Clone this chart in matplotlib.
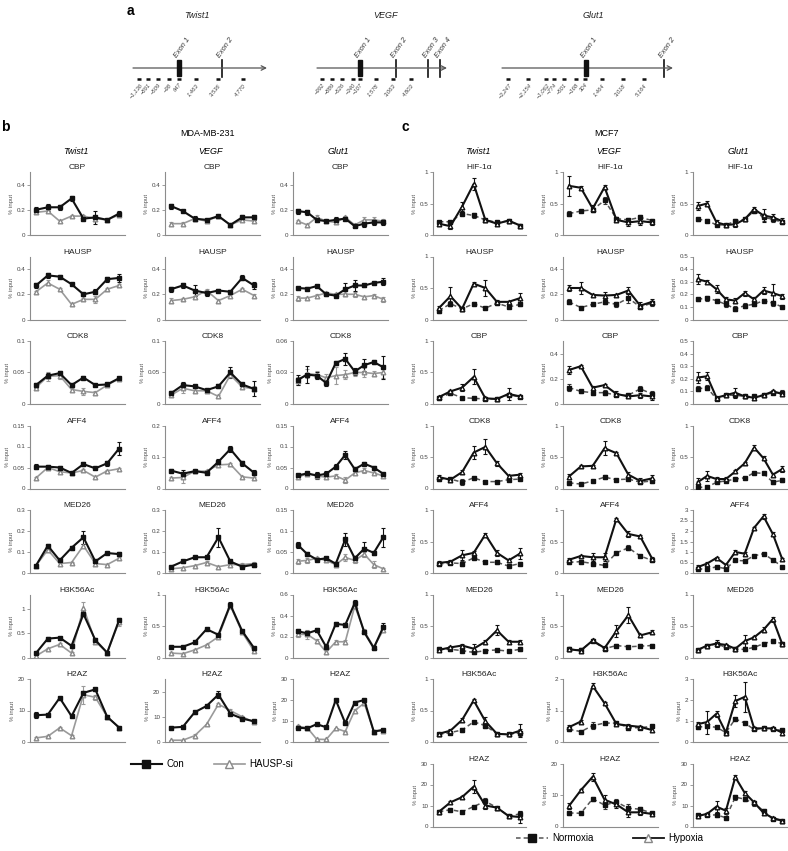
import numpy as np
import matplotlib
matplotlib.use("Agg")
import matplotlib.pyplot as plt
from matplotlib.lines import Line2D
from matplotlib.patches import Rectangle

W, H = 788, 851

# ---------------- panel a: amplicon maps (schematic offsets from line start, px) ----------------
GENES = ["Twist1", "VEGF", "Glut1"]
TWIST1_PRIMERS = ["\u22121,136", "\u2212891", "\u2212509", "\u221298", "647", "1,463", "3,536", "4,770"]
TWIST1_PRIMER_POS = [6, 15, 25, 36, 46, 63, 85, 110]
TWIST1_EXONS = ["Exon 1", "Exon 2"]
TWIST1_EXON_POS = [46, 89]
VEGF_PRIMERS = ["\u2212992", "\u2212889", "\u2212526", "\u2212340", "\u2212107", "1,578", "3,063", "4,803"]
VEGF_PRIMER_POS = [5, 15, 25, 36, 43, 59, 76, 94]
VEGF_EXONS = ["Exon 1", "Exon 2", "Exon 3", "Exon 4"]
VEGF_EXON_POS = [43, 79, 111, 123]
GLUT1_PRIMERS = ["\u22123,247", "\u22122,154", "\u22121,062", "\u2212774", "\u2212501", "\u2212168", "304",
                 "1,464", "3,018", "5,164"]
GLUT1_PRIMER_POS = [6, 26, 44, 52, 62, 74, 83, 100, 121, 142]
GLUT1_EXONS = ["Exon 1", "Exon 2"]
GLUT1_EXON_POS = [84, 162]

# ---------------- panel b: MDA-MB-231, Con vs HAUSP-si ----------------
B_ROWS = ["CBP", "HAUSP", "CDK8", "AFF4", "MED26", "H3K56Ac", "H2AZ"]
B_CBP_CON = [[0.20, 0.22, 0.22, 0.29, 0.13, 0.14, 0.12, 0.17],
             [0.23, 0.19, 0.13, 0.12, 0.15, 0.08, 0.14, 0.14],
             [0.19, 0.18, 0.12, 0.11, 0.12, 0.13, 0.07, 0.09, 0.10, 0.10]]
B_CBP_CON_ERR = [[0.02, 0.03, 0.02, 0.02, 0.01, 0.05, 0.01, 0.02],
                 [0.02, 0.01, 0.02, 0.01, 0.01, 0.01, 0.02, 0.02],
                 [0.02, 0.02, 0.02, 0.01, 0.02, 0.01, 0.01, 0.03, 0.02, 0.02]]
B_CBP_SI = [[0.18, 0.19, 0.11, 0.15, 0.15, 0.13, 0.12, 0.16],
            [0.09, 0.09, 0.13, 0.11, 0.15, 0.08, 0.12, 0.11],
            [0.11, 0.08, 0.14, 0.11, 0.10, 0.14, 0.08, 0.12, 0.12, 0.11]]
B_CBP_SI_ERR = [[0.01, 0.01, 0.01, 0.01, 0.01, 0.02, 0.01, 0.02],
                [0.01, 0.01, 0.01, 0.01, 0.01, 0.01, 0.01, 0.01],
                [0.01, 0.01, 0.02, 0.01, 0.01, 0.01, 0.01, 0.02, 0.02, 0.02]]

B_HAUSP_CON = [[0.27, 0.35, 0.34, 0.28, 0.20, 0.22, 0.32, 0.33],
               [0.24, 0.27, 0.23, 0.21, 0.23, 0.22, 0.33, 0.27],
               [0.25, 0.245, 0.265, 0.20, 0.19, 0.24, 0.27, 0.27, 0.29, 0.30]]
B_HAUSP_CON_ERR = [[0.02, 0.02, 0.01, 0.01, 0.01, 0.02, 0.02, 0.03],
                   [0.02, 0.02, 0.04, 0.02, 0.01, 0.01, 0.02, 0.03],
                   [0.01, 0.01, 0.01, 0.01, 0.01, 0.05, 0.04, 0.01, 0.01, 0.03]]
B_HAUSP_SI = [[0.22, 0.29, 0.24, 0.12, 0.16, 0.16, 0.24, 0.27],
              [0.15, 0.16, 0.18, 0.23, 0.15, 0.19, 0.24, 0.19],
              [0.17, 0.17, 0.19, 0.21, 0.20, 0.20, 0.20, 0.18, 0.19, 0.16]]
B_HAUSP_SI_ERR = [[0.01, 0.02, 0.01, 0.01, 0.01, 0.03, 0.01, 0.01],
                  [0.02, 0.01, 0.01, 0.01, 0.01, 0.01, 0.01, 0.01],
                  [0.02, 0.01, 0.01, 0.01, 0.01, 0.01, 0.02, 0.01, 0.01, 0.02]]

B_CDK8_CON = [[0.030, 0.045, 0.049, 0.030, 0.042, 0.030, 0.031, 0.041],
              [0.017, 0.030, 0.028, 0.022, 0.028, 0.050, 0.031, 0.024],
              [0.023, 0.028, 0.027, 0.020, 0.039, 0.043, 0.031, 0.037, 0.040, 0.035]]
B_CDK8_CON_ERR = [[0.004, 0.004, 0.003, 0.002, 0.003, 0.002, 0.002, 0.002],
                  [0.004, 0.005, 0.002, 0.002, 0.003, 0.009, 0.002, 0.012],
                  [0.005, 0.008, 0.003, 0.003, 0.002, 0.006, 0.003, 0.006, 0.002, 0.011]]
B_CDK8_SI = [[0.026, 0.044, 0.045, 0.023, 0.020, 0.018, 0.030, 0.040],
             [0.014, 0.025, 0.021, 0.021, 0.012, 0.046, 0.027, 0.024],
             [0.022, 0.029, 0.028, 0.025, 0.027, 0.028, 0.030, 0.030, 0.029, 0.030]]
B_CDK8_SI_ERR = [[0.004, 0.007, 0.005, 0.003, 0.006, 0.002, 0.002, 0.002],
                 [0.003, 0.008, 0.002, 0.002, 0.002, 0.003, 0.003, 0.004],
                 [0.004, 0.004, 0.003, 0.004, 0.008, 0.004, 0.003, 0.004, 0.002, 0.005]]

B_AFF4_CON = [[0.052, 0.052, 0.050, 0.037, 0.058, 0.048, 0.060, 0.095],
              [0.057, 0.047, 0.055, 0.050, 0.085, 0.125, 0.080, 0.050],
              [0.031, 0.036, 0.031, 0.035, 0.052, 0.080, 0.046, 0.059, 0.050, 0.035]]
B_AFF4_CON_ERR = [[0.006, 0.004, 0.004, 0.002, 0.005, 0.002, 0.006, 0.015],
                  [0.006, 0.012, 0.003, 0.004, 0.008, 0.010, 0.008, 0.008],
                  [0.004, 0.002, 0.008, 0.006, 0.006, 0.010, 0.004, 0.004, 0.004, 0.003]]
B_AFF4_SI = [[0.025, 0.050, 0.040, 0.037, 0.043, 0.027, 0.042, 0.047],
             [0.033, 0.035, 0.055, 0.055, 0.075, 0.077, 0.037, 0.033],
             [0.027, 0.035, 0.030, 0.027, 0.030, 0.020, 0.037, 0.043, 0.037, 0.030]]
B_AFF4_SI_ERR = [[0.003, 0.004, 0.004, 0.002, 0.004, 0.002, 0.003, 0.002],
                 [0.005, 0.018, 0.003, 0.004, 0.006, 0.005, 0.003, 0.005],
                 [0.004, 0.002, 0.005, 0.004, 0.004, 0.008, 0.003, 0.005, 0.003, 0.003]]

B_MED26_CON = [[0.035, 0.13, 0.06, 0.12, 0.17, 0.055, 0.095, 0.09],
               [0.03, 0.055, 0.075, 0.075, 0.17, 0.055, 0.03, 0.04],
               [0.067, 0.045, 0.032, 0.035, 0.022, 0.080, 0.035, 0.058, 0.048, 0.085]]
B_MED26_CON_ERR = [[0.005, 0.01, 0.005, 0.01, 0.03, 0.005, 0.005, 0.01],
                   [0.004, 0.005, 0.004, 0.005, 0.045, 0.006, 0.006, 0.01],
                   [0.007, 0.004, 0.004, 0.004, 0.005, 0.015, 0.005, 0.017, 0.005, 0.022]]
B_MED26_SI = [[0.035, 0.11, 0.045, 0.05, 0.13, 0.045, 0.04, 0.07],
              [0.02, 0.025, 0.035, 0.05, 0.03, 0.04, 0.04, 0.045],
              [0.028, 0.030, 0.035, 0.030, 0.020, 0.037, 0.030, 0.045, 0.020, 0.010]]
B_MED26_SI_ERR = [[0.005, 0.008, 0.005, 0.004, 0.008, 0.005, 0.004, 0.008],
                  [0.005, 0.004, 0.004, 0.005, 0.004, 0.006, 0.006, 0.008],
                  [0.006, 0.005, 0.004, 0.004, 0.005, 0.008, 0.006, 0.006, 0.008, 0.002]]

B_H3_CON = [[0.09, 0.39, 0.41, 0.24, 0.90, 0.36, 0.10, 0.77],
            [0.17, 0.17, 0.24, 0.45, 0.36, 0.84, 0.42, 0.15],
            [0.25, 0.23, 0.26, 0.10, 0.32, 0.31, 0.52, 0.24, 0.09, 0.29]]
B_H3_CON_ERR = [[0.02, 0.03, 0.02, 0.02, 0.05, 0.04, 0.02, 0.05],
                [0.01, 0.01, 0.01, 0.01, 0.01, 0.04, 0.02, 0.02],
                [0.02, 0.02, 0.02, 0.03, 0.02, 0.02, 0.03, 0.02, 0.02, 0.04]]
B_H3_SI = [[0.03, 0.18, 0.27, 0.09, 1.03, 0.33, 0.10, 0.74],
           [0.07, 0.06, 0.12, 0.20, 0.33, 0.82, 0.40, 0.10],
           [0.22, 0.22, 0.16, 0.05, 0.15, 0.15, 0.49, 0.25, 0.10, 0.26]]
B_H3_SI_ERR = [[0.02, 0.02, 0.02, 0.02, 0.12, 0.06, 0.02, 0.08],
               [0.01, 0.01, 0.01, 0.01, 0.01, 0.03, 0.01, 0.01],
               [0.02, 0.04, 0.02, 0.02, 0.02, 0.02, 0.03, 0.02, 0.02, 0.02]]

B_H2AZ_CON = [[8.5, 8.7, 14.0, 8.2, 15.6, 16.7, 8.0, 4.6],
              [5.7, 6.0, 11.8, 14.3, 18.8, 11.2, 9.3, 8.2],
              [6.8, 6.5, 8.5, 7.0, 20.0, 9.0, 18.8, 20.0, 5.0, 5.8]]
B_H2AZ_CON_ERR = [[1.0, 0.3, 0.3, 0.3, 0.6, 0.5, 0.3, 0.3],
                  [0.3, 0.3, 0.5, 0.3, 1.5, 0.5, 0.3, 0.3],
                  [0.5, 0.5, 0.3, 0.3, 0.5, 0.5, 0.5, 0.5, 0.5, 0.3]]
B_H2AZ_SI = [[1.3, 1.8, 4.5, 2.0, 15.0, 14.2, 8.0, 4.6],
             [0.7, 0.7, 2.5, 7.0, 15.0, 12.5, 10.0, 7.9],
             [7.5, 6.8, 1.3, 1.2, 6.5, 5.0, 15.0, 18.5, 5.0, 5.3]]
B_H2AZ_SI_ERR = [[0.2, 0.3, 0.4, 0.3, 2.8, 0.8, 0.3, 0.3],
                 [0.2, 0.2, 0.6, 0.3, 0.5, 0.5, 0.3, 0.5],
                 [0.5, 0.5, 0.3, 0.3, 0.4, 0.4, 0.6, 0.6, 0.4, 0.3]]

# y-axis (top, ticks) per row, per gene
B_YAXES = [
    [(0.5, [0, 0.2, 0.4])] * 3,
    [(0.5, [0, 0.2, 0.4])] * 3,
    [(0.1, [0, 0.05, 0.1]), (0.1, [0, 0.05, 0.1]), (0.06, [0, 0.03, 0.06])],
    [(0.15, [0, 0.05, 0.1, 0.15]), (0.2, [0, 0.1, 0.2]), (0.15, [0, 0.05, 0.1, 0.15])],
    [(0.3, [0, 0.1, 0.2, 0.3]), (0.3, [0, 0.1, 0.2, 0.3]), (0.15, [0, 0.05, 0.1, 0.15])],
    [(1.3, [0, 0.5, 1]), (1, [0, 0.5, 1]), (0.6, [0, 0.2, 0.4, 0.6])],
    [(20, [0, 10, 20]), (25, [0, 10, 20]), (30, [0, 10, 20, 30])],
]

# ---------------- panel c: MCF7, Normoxia vs Hypoxia ----------------
C_ROWS = ["HIF-1\u03b1", "HAUSP", "CBP", "CDK8", "AFF4", "MED26", "H3K56Ac", "H2AZ"]
C_HIF_NORM = [[0.21, 0.21, 0.34, 0.31, 0.24, 0.20, 0.22, 0.15],
              [0.34, 0.38, 0.40, 0.55, 0.26, 0.24, 0.28, 0.23],
              [0.25, 0.23, 0.16, 0.16, 0.22, 0.25, 0.38, 0.28, 0.25, 0.20]]
C_HIF_NORM_ERR = [[0.02, 0.02, 0.02, 0.04, 0.02, 0.02, 0.02, 0.02],
                  [0.04, 0.02, 0.03, 0.05, 0.03, 0.03, 0.03, 0.03],
                  [0.02, 0.02, 0.02, 0.02, 0.03, 0.02, 0.03, 0.05, 0.04, 0.03]]
C_HIF_HYP = [[0.18, 0.14, 0.45, 0.81, 0.24, 0.18, 0.23, 0.15],
             [0.78, 0.75, 0.42, 0.76, 0.24, 0.20, 0.22, 0.20],
             [0.46, 0.50, 0.20, 0.16, 0.17, 0.25, 0.41, 0.31, 0.28, 0.22]]
C_HIF_HYP_ERR = [[0.03, 0.04, 0.07, 0.10, 0.02, 0.02, 0.02, 0.02],
                 [0.16, 0.02, 0.05, 0.03, 0.04, 0.06, 0.06, 0.04],
                 [0.06, 0.04, 0.04, 0.02, 0.05, 0.02, 0.04, 0.11, 0.06, 0.05]]

C_HAUSP_NORM = [[0.14, 0.25, 0.17, 0.25, 0.18, 0.26, 0.20, 0.24],
                [0.14, 0.095, 0.12, 0.14, 0.12, 0.17, 0.10, 0.13],
                [0.16, 0.17, 0.15, 0.12, 0.085, 0.11, 0.12, 0.15, 0.13, 0.10]]
C_HAUSP_NORM_ERR = [[0.03, 0.04, 0.02, 0.02, 0.01, 0.03, 0.02, 0.03],
                    [0.02, 0.01, 0.01, 0.02, 0.02, 0.04, 0.02, 0.02],
                    [0.01, 0.02, 0.01, 0.02, 0.02, 0.02, 0.01, 0.01, 0.02, 0.01]]
C_HAUSP_HYP = [[0.18, 0.37, 0.17, 0.57, 0.50, 0.28, 0.28, 0.34],
               [0.25, 0.25, 0.195, 0.19, 0.195, 0.23, 0.11, 0.14],
               [0.32, 0.30, 0.24, 0.16, 0.15, 0.21, 0.16, 0.23, 0.21, 0.185]]
C_HAUSP_HYP_ERR = [[0.03, 0.15, 0.02, 0.02, 0.12, 0.03, 0.02, 0.08],
                   [0.02, 0.05, 0.01, 0.03, 0.01, 0.03, 0.03, 0.02],
                   [0.04, 0.01, 0.03, 0.02, 0.02, 0.02, 0.02, 0.03, 0.07, 0.02]]

C_CBP_NORM = [[0.09, 0.17, 0.10, 0.09, 0.08, 0.08, 0.15, 0.11],
              [0.13, 0.10, 0.09, 0.09, 0.07, 0.07, 0.12, 0.08],
              [0.12, 0.13, 0.04, 0.07, 0.07, 0.06, 0.06, 0.07, 0.09, 0.09]]
C_CBP_NORM_ERR = [[0.02, 0.02, 0.01, 0.01, 0.01, 0.01, 0.03, 0.02],
                  [0.03, 0.01, 0.02, 0.02, 0.01, 0.01, 0.02, 0.02],
                  [0.02, 0.02, 0.01, 0.01, 0.01, 0.01, 0.01, 0.01, 0.01, 0.02]]
C_CBP_HYP = [[0.11, 0.20, 0.26, 0.43, 0.09, 0.08, 0.16, 0.12],
             [0.27, 0.30, 0.13, 0.15, 0.08, 0.06, 0.07, 0.06],
             [0.21, 0.22, 0.05, 0.07, 0.09, 0.06, 0.05, 0.07, 0.10, 0.08]]
C_CBP_HYP_ERR = [[0.02, 0.02, 0.06, 0.12, 0.02, 0.02, 0.10, 0.02],
                 [0.03, 0.01, 0.01, 0.01, 0.02, 0.01, 0.02, 0.03],
                 [0.04, 0.03, 0.01, 0.01, 0.04, 0.01, 0.01, 0.01, 0.01, 0.02]]

C_CDK8_NORM = [[0.15, 0.15, 0.10, 0.17, 0.11, 0.11, 0.14, 0.15],
               [0.09, 0.07, 0.12, 0.18, 0.14, 0.15, 0.10, 0.12],
               [0.02, 0.02, 0.10, 0.12, 0.15, 0.17, 0.25, 0.24, 0.10, 0.13]]
C_CDK8_NORM_ERR = [[0.03, 0.02, 0.05, 0.01, 0.01, 0.01, 0.02, 0.02],
                   [0.01, 0.01, 0.01, 0.03, 0.01, 0.02, 0.03, 0.03],
                   [0.02, 0.01, 0.02, 0.02, 0.01, 0.01, 0.01, 0.01, 0.03, 0.03]]
C_CDK8_HYP = [[0.18, 0.14, 0.26, 0.57, 0.66, 0.40, 0.20, 0.22],
              [0.19, 0.35, 0.36, 0.64, 0.56, 0.22, 0.12, 0.16],
              [0.10, 0.20, 0.15, 0.15, 0.27, 0.40, 0.65, 0.48, 0.22, 0.31]]
C_CDK8_HYP_ERR = [[0.04, 0.03, 0.03, 0.10, 0.12, 0.04, 0.02, 0.03],
                  [0.04, 0.02, 0.02, 0.11, 0.02, 0.04, 0.05, 0.05],
                  [0.07, 0.08, 0.04, 0.03, 0.02, 0.02, 0.04, 0.03, 0.02, 0.05]]

C_AFF4_NORM = [[0.14, 0.16, 0.15, 0.24, 0.17, 0.17, 0.11, 0.15],
               [0.17, 0.18, 0.15, 0.12, 0.32, 0.40, 0.27, 0.20],
               [0.20, 0.18, 0.30, 0.20, 0.60, 0.58, 0.82, 0.92, 0.62, 0.30]]
C_AFF4_NORM_ERR = [[0.03, 0.02, 0.04, 0.02, 0.03, 0.03, 0.02, 0.02],
                   [0.02, 0.02, 0.02, 0.01, 0.02, 0.04, 0.02, 0.03],
                   [0.05, 0.05, 0.03, 0.05, 0.05, 0.05, 0.05, 0.05, 0.05, 0.05]]
C_AFF4_HYP = [[0.16, 0.18, 0.28, 0.32, 0.61, 0.32, 0.20, 0.31],
              [0.21, 0.27, 0.25, 0.25, 0.86, 0.62, 0.58, 0.23],
              [0.28, 0.45, 0.72, 0.38, 1.00, 0.92, 2.15, 2.70, 1.85, 0.65]]
C_AFF4_HYP_ERR = [[0.03, 0.02, 0.08, 0.03, 0.02, 0.05, 0.02, 0.08],
                  [0.03, 0.02, 0.06, 0.06, 0.02, 0.05, 0.02, 0.03],
                  [0.08, 0.06, 0.06, 0.06, 0.10, 0.06, 0.06, 0.12, 0.08, 0.06]]

C_MED26_NORM = [[0.13, 0.13, 0.11, 0.08, 0.11, 0.12, 0.10, 0.13],
                [0.13, 0.12, 0.26, 0.14, 0.19, 0.17, 0.18, 0.19],
                [0.12, 0.18, 0.22, 0.16, 0.13, 0.13, 0.16, 0.22, 0.26, 0.22]]
C_MED26_NORM_ERR = [[0.03, 0.02, 0.01, 0.03, 0.01, 0.01, 0.02, 0.02],
                    [0.03, 0.03, 0.01, 0.03, 0.02, 0.02, 0.03, 0.02],
                    [0.02, 0.02, 0.03, 0.02, 0.02, 0.02, 0.02, 0.02, 0.03, 0.02]]
C_MED26_HYP = [[0.12, 0.16, 0.19, 0.14, 0.25, 0.43, 0.25, 0.25],
               [0.13, 0.11, 0.27, 0.15, 0.42, 0.67, 0.35, 0.40],
               [0.12, 0.19, 0.22, 0.20, 0.14, 0.26, 0.32, 0.44, 0.61, 0.21]]
C_MED26_HYP_ERR = [[0.02, 0.02, 0.02, 0.07, 0.03, 0.08, 0.02, 0.02],
                   [0.03, 0.04, 0.02, 0.04, 0.10, 0.13, 0.03, 0.03],
                   [0.02, 0.02, 0.06, 0.02, 0.02, 0.10, 0.02, 0.04, 0.04, 0.03]]

C_H3_NORM = [[0.12, 0.15, 0.19, 0.32, 0.26, 0.13, 0.12, 0.15],
             [0.40, 0.33, 0.52, 0.60, 0.60, 0.46, 0.45, 0.50],
             [0.70, 0.75, 0.70, 0.45, 1.10, 0.90, 0.60, 0.65, 0.60, 0.55]]
C_H3_NORM_ERR = [[0.02, 0.02, 0.03, 0.02, 0.03, 0.01, 0.02, 0.05],
                 [0.05, 0.03, 0.10, 0.02, 0.03, 0.05, 0.03, 0.04],
                 [0.10, 0.10, 0.06, 0.05, 0.06, 0.05, 0.05, 0.06, 0.05, 0.05]]
C_H3_HYP = [[0.13, 0.18, 0.35, 0.66, 0.33, 0.13, 0.12, 0.18],
            [0.47, 0.65, 1.78, 1.23, 0.57, 0.52, 0.48, 0.38],
            [0.85, 0.95, 1.35, 0.45, 1.95, 2.15, 0.65, 0.65, 0.65, 0.45]]
C_H3_HYP_ERR = [[0.02, 0.02, 0.03, 0.03, 0.06, 0.02, 0.02, 0.10],
                [0.08, 0.05, 0.08, 0.04, 0.04, 0.04, 0.03, 0.05],
                [0.10, 0.55, 0.15, 0.08, 0.30, 0.70, 0.06, 0.06, 0.06, 0.10]]

C_H2AZ_NORM = [[7.0, 8.0, 7.0, 9.5, 12.0, 9.0, 5.0, 6.0],
               [4.3, 4.2, 8.8, 6.8, 7.8, 5.8, 5.5, 4.2],
               [5.5, 5.5, 5.5, 4.2, 14.0, 13.0, 11.0, 7.5, 3.5, 2.8]]
C_H2AZ_NORM_ERR = [[0.5, 0.5, 0.4, 0.5, 1.5, 0.5, 0.5, 1.5],
                   [0.5, 0.3, 0.6, 1.2, 1.0, 1.2, 0.8, 0.5],
                   [0.5, 0.5, 0.8, 0.5, 1.2, 1.0, 1.0, 0.8, 0.5, 0.3]]
C_H2AZ_HYP = [[7.0, 11.5, 14.0, 19.0, 10.0, 9.0, 5.0, 4.5],
              [6.5, 11.5, 15.8, 8.5, 7.0, 4.5, 4.5, 4.0],
              [5.0, 6.0, 9.5, 7.5, 23.5, 16.0, 11.5, 6.5, 4.0, 2.8]]
C_H2AZ_HYP_ERR = [[1.0, 0.8, 0.4, 3.0, 1.5, 0.5, 0.5, 3.0],
                  [1.0, 0.4, 1.2, 1.5, 1.0, 1.5, 1.0, 0.5],
                  [0.8, 0.6, 2.5, 1.5, 1.0, 0.8, 0.8, 0.8, 0.5, 0.3]]

C_YAXES = [
    [(1, [0, 0.5, 1])] * 3,
    [(1, [0, 0.5, 1]), (0.5, [0, 0.2, 0.4]), (0.5, [0, 0.1, 0.2, 0.3, 0.4, 0.5])],
    [(1, [0, 0.5, 1]), (0.5, [0, 0.2, 0.4]), (0.5, [0, 0.1, 0.2, 0.3, 0.4, 0.5])],
    [(1, [0, 0.5, 1])] * 3,
    [(1, [0, 0.5, 1]), (1, [0, 0.5, 1]), (3, [0, 0.5, 1, 1.5, 2, 2.5, 3])],
    [(1, [0, 0.5, 1])] * 3,
    [(1, [0, 0.5, 1]), (2, [0, 1, 2]), (3, [0, 1, 2, 3])],
    [(30, [0, 10, 20, 30]), (20, [0, 10, 20]), (30, [0, 10, 20, 30])],
]

B_CON = [B_CBP_CON, B_HAUSP_CON, B_CDK8_CON, B_AFF4_CON, B_MED26_CON, B_H3_CON, B_H2AZ_CON]
B_CON_ERR = [B_CBP_CON_ERR, B_HAUSP_CON_ERR, B_CDK8_CON_ERR, B_AFF4_CON_ERR, B_MED26_CON_ERR,
             B_H3_CON_ERR, B_H2AZ_CON_ERR]
B_SI = [B_CBP_SI, B_HAUSP_SI, B_CDK8_SI, B_AFF4_SI, B_MED26_SI, B_H3_SI, B_H2AZ_SI]
B_SI_ERR = [B_CBP_SI_ERR, B_HAUSP_SI_ERR, B_CDK8_SI_ERR, B_AFF4_SI_ERR, B_MED26_SI_ERR,
            B_H3_SI_ERR, B_H2AZ_SI_ERR]
C_NORM = [C_HIF_NORM, C_HAUSP_NORM, C_CBP_NORM, C_CDK8_NORM, C_AFF4_NORM, C_MED26_NORM,
          C_H3_NORM, C_H2AZ_NORM]
C_NORM_ERR = [C_HIF_NORM_ERR, C_HAUSP_NORM_ERR, C_CBP_NORM_ERR, C_CDK8_NORM_ERR, C_AFF4_NORM_ERR,
              C_MED26_NORM_ERR, C_H3_NORM_ERR, C_H2AZ_NORM_ERR]
C_HYP = [C_HIF_HYP, C_HAUSP_HYP, C_CBP_HYP, C_CDK8_HYP, C_AFF4_HYP, C_MED26_HYP, C_H3_HYP, C_H2AZ_HYP]
C_HYP_ERR = [C_HIF_HYP_ERR, C_HAUSP_HYP_ERR, C_CBP_HYP_ERR, C_CDK8_HYP_ERR, C_AFF4_HYP_ERR,
             C_MED26_HYP_ERR, C_H3_HYP_ERR, C_H2AZ_HYP_ERR]

# ---------------- styles ----------------
STY_CON = dict(color="#111111", lw=1.5, marker="s", ms=3, mfc="#111111", mec="#111111")
STY_SI = dict(color="#9a9a9a", lw=1.2, marker="^", ms=3.3, mfc="white", mec="#8a8a8a")
STY_NORM = dict(color="#555555", lw=1.1, ls=(0, (3, 2)), marker="s", ms=3, mfc="#111111", mec="#111111")
STY_HYP = dict(color="#111111", lw=1.5, marker="^", ms=3.3, mfc="white", mec="#111111")

plt.rcParams["font.family"] = ["Liberation Sans", "DejaVu Sans"]

fig = plt.figure(figsize=(W / 100, H / 100), dpi=100)
fig.patch.set_facecolor("white")

B_COLS = [(30, 125), (165, 260), (293, 388)]
C_COLS = [(433, 526), (563, 658), (693, 787)]
ROW0_BOTTOM = 235
ROW_STEP = 84.5
AX_H = 63


def px_axes(x0, x1, ytop, ybot):
    return fig.add_axes([x0 / W, 1 - ybot / H, (x1 - x0) / W, (ybot - ytop) / H])


def draw_series(ax, vals, err, sty, ecolor):
    x = np.arange(1, len(vals) + 1)
    ax.errorbar(x, vals, yerr=err, fmt="none", ecolor=ecolor, elinewidth=0.8,
                capsize=1.3, capthick=0.8, zorder=2)
    ax.plot(x, vals, zorder=3, **sty)


def style_axes(ax, title, n, ymax, yticks):
    ax.set_xlim(0.5, n + 0.5)
    ax.set_ylim(0, ymax)
    ax.set_yticks(yticks)
    ax.set_yticklabels([f"{t:g}" for t in yticks])
    ax.set_xticks([])
    for s in ["top", "right"]:
        ax.spines[s].set_visible(False)
    for s in ["left", "bottom"]:
        ax.spines[s].set_color("#8c8c8c")
        ax.spines[s].set_linewidth(0.8)
    ax.tick_params(axis="y", length=2, width=0.6, color="#8c8c8c", labelsize=4.5,
                   labelcolor="#444444", pad=1.5)
    ax.set_title(title, fontsize=6, pad=2, color="#222222")
    ax.set_ylabel("% input", fontsize=4.3, labelpad=2, color="#555555")
    ax.patch.set_alpha(0)


# panel b
for r, row in enumerate(B_ROWS):
    ybot = ROW0_BOTTOM + r * ROW_STEP
    for g, (x0, x1) in enumerate(B_COLS):
        ax = px_axes(x0, x1, ybot - AX_H, ybot)
        draw_series(ax, B_SI[r][g], B_SI_ERR[r][g], STY_SI, "#9a9a9a")
        draw_series(ax, B_CON[r][g], B_CON_ERR[r][g], STY_CON, "#111111")
        ymax, ticks = B_YAXES[r][g]
        style_axes(ax, row, len(B_CON[r][g]), ymax, ticks)

# panel c
for r, row in enumerate(C_ROWS):
    ybot = ROW0_BOTTOM + r * ROW_STEP
    for g, (x0, x1) in enumerate(C_COLS):
        ax = px_axes(x0, x1, ybot - AX_H, ybot)
        draw_series(ax, C_NORM[r][g], C_NORM_ERR[r][g], STY_NORM, "#333333")
        draw_series(ax, C_HYP[r][g], C_HYP_ERR[r][g], STY_HYP, "#111111")
        ymax, ticks = C_YAXES[r][g]
        style_axes(ax, row, len(C_HYP[r][g]), ymax, ticks)

# overlay in pixel units for panel a and headers
ov = fig.add_axes([0, 0, 1, 1])
ov.set_xlim(0, W)
ov.set_ylim(H, 0)
ov.axis("off")
ov.patch.set_alpha(0)

ov.text(130, 11, "a", fontsize=10, fontweight="bold", ha="center", va="center")
ov.text(5, 127, "b", fontsize=10, fontweight="bold", ha="center", va="center")
ov.text(405, 127, "c", fontsize=10, fontweight="bold", ha="center", va="center")
ov.text(208, 134, "MDA-MB-231", fontsize=6.5, ha="center", va="center")
ov.text(607, 134, "MCF7", fontsize=6.5, ha="center", va="center")
for cols in (B_COLS, C_COLS):
    for gene, (x0, x1) in zip(GENES, cols):
        ov.text((x0 + x1) / 2 - 2, 151, gene, fontsize=6.5, style="italic", ha="center", va="center")

# gene maps
LINE_Y = 68
maps = [
    ("Twist1", 133, 267, 197, TWIST1_EXONS, TWIST1_EXON_POS, TWIST1_PRIMERS, TWIST1_PRIMER_POS),
    ("VEGF", 317, 447, 385, VEGF_EXONS, VEGF_EXON_POS, VEGF_PRIMERS, VEGF_PRIMER_POS),
    ("Glut1", 502, 673, 593, GLUT1_EXONS, GLUT1_EXON_POS, GLUT1_PRIMERS, GLUT1_PRIMER_POS),
]
for name, x0, x1, xt, exons, exon_pos, primers, primer_pos in maps:
    ov.text(xt, 16, name, fontsize=6.5, style="italic", ha="center", va="center", color="#222222")
    ov.annotate("", xy=(x1, LINE_Y), xytext=(x0, LINE_Y),
                arrowprops=dict(arrowstyle="->", lw=0.9, color="#555555", mutation_scale=8,
                                shrinkA=0, shrinkB=0))
    for i, (ex, p) in enumerate(zip(exons, exon_pos)):
        xe = x0 + p
        if i == 0:
            ov.add_patch(Rectangle((xe - 2, LINE_Y - 8), 4, 16, color="#111111", zorder=3))
        else:
            ov.plot([xe, xe], [LINE_Y - 8, LINE_Y + 9], color="#111111", lw=1.2)
        ov.text(xe - 3, LINE_Y - 11, ex, fontsize=5.3, style="italic", rotation=55,
                rotation_mode="anchor", ha="left", va="center", color="#333333")
    for lab, p in zip(primers, primer_pos):
        xp = x0 + p
        ov.plot([xp - 2, xp + 2], [LINE_Y + 11, LINE_Y + 11], color="#111111", lw=1.8,
                solid_capstyle="butt")
        ov.text(xp + 2, LINE_Y + 16, lab, fontsize=4.2, style="italic", rotation=50,
                rotation_mode="anchor", ha="right", va="center", color="#444444")

# legends
b_handles = [Line2D([], [], color="#111111", lw=1.5, marker="s", ms=5.5, mfc="#111111"),
             Line2D([], [], color="#9a9a9a", lw=1.2, marker="^", ms=5.5, mfc="white", mec="#8a8a8a")]
fig.legend(b_handles, ["Con", "HAUSP-si"], loc="center", bbox_to_anchor=(212 / W, 1 - 764 / H),
           ncol=2, frameon=False, fontsize=7, handlelength=3.2, columnspacing=3, handletextpad=0.5)
c_handles = [Line2D([], [], color="#555555", lw=1.1, ls=(0, (3, 2)), marker="s", ms=5.5,
                    mfc="#111111", mec="#111111"),
             Line2D([], [], color="#111111", lw=1.3, marker="^", ms=5.5, mfc="white", mec="#888888")]
fig.legend(c_handles, ["Normoxia", "Hypoxia"], loc="center", bbox_to_anchor=(610 / W, 1 - 838 / H),
           ncol=2, frameon=False, fontsize=7, handlelength=3.2, columnspacing=4, handletextpad=0.5)

fig.savefig("out.png", dpi=100, facecolor="white")
